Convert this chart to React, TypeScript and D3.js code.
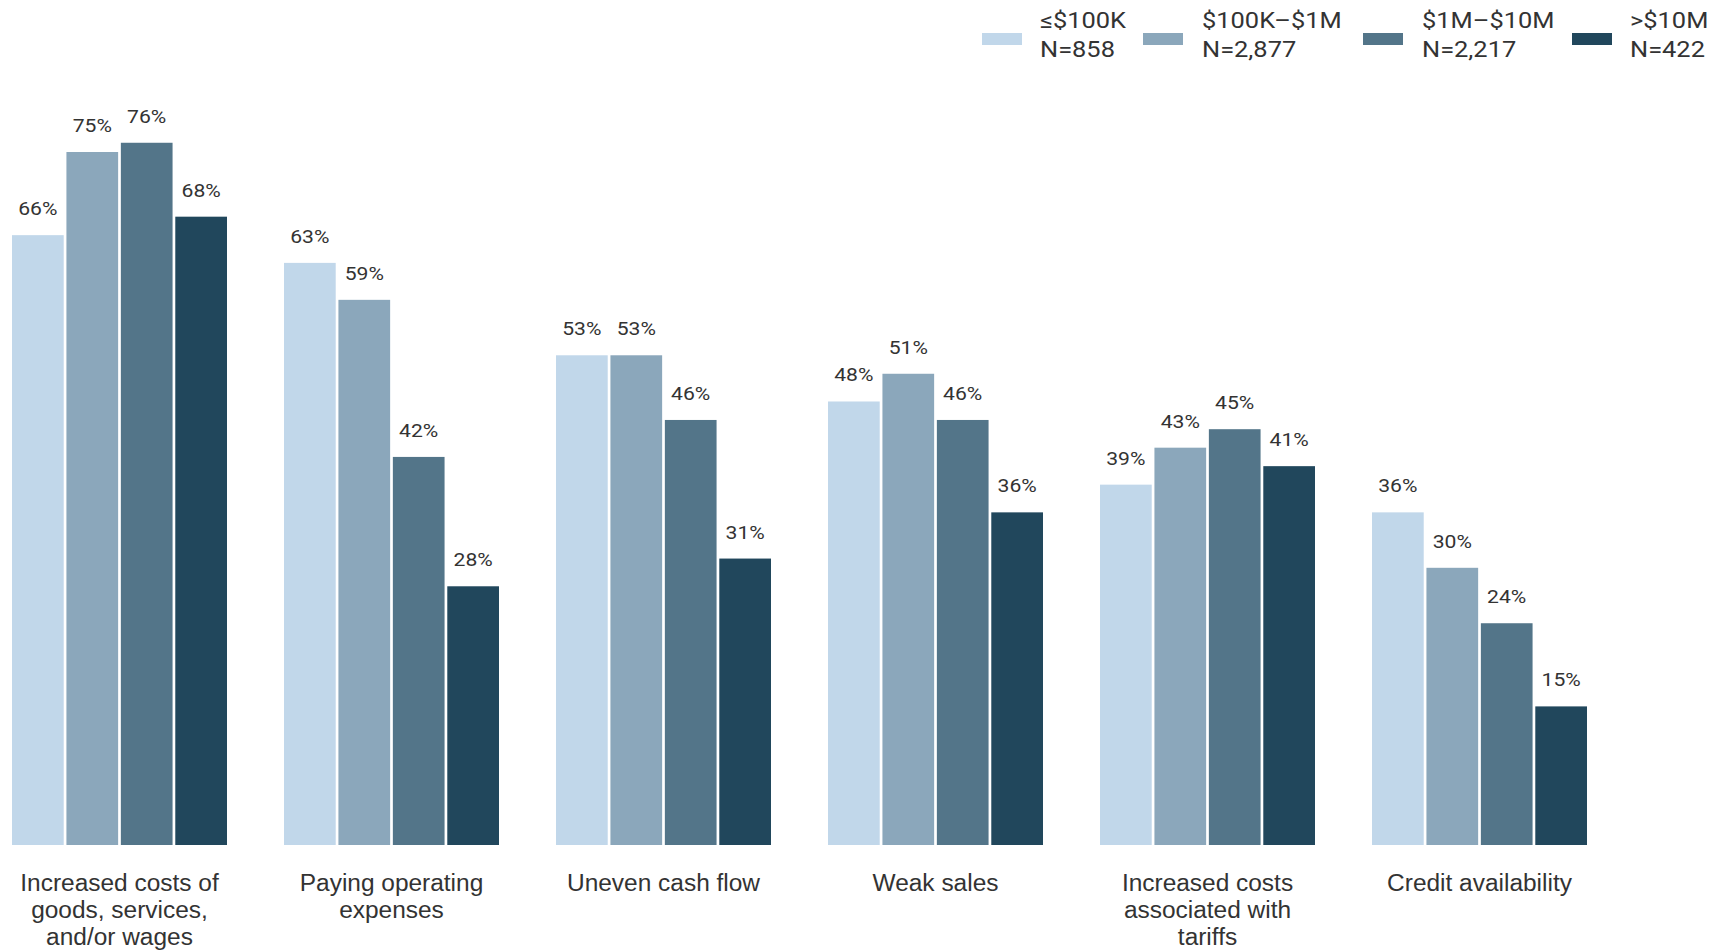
import React from "react";
import * as d3 from "d3";

const categories = [
  ["Increased costs of", "goods, services,", "and/or wages"],
  ["Paying operating", "expenses"],
  ["Uneven cash flow"],
  ["Weak sales"],
  ["Increased costs", "associated with", "tariffs"],
  ["Credit availability"],
];
const seriesNames = ["≤$100K", "$100K–$1M", "$1M–$10M", ">$10M"];
const seriesN = ["N=858", "N=2,877", "N=2,217", "N=422"];
const colors = ["#c1d7ea", "#8ba7bb", "#537589", "#21475c"];
const s1 = [66, 63, 53, 48, 39, 36];
const s2 = [75, 59, 53, 51, 43, 30];
const s3 = [76, 42, 46, 46, 45, 24];
const s4 = [68, 28, 31, 36, 41, 15];
const series = [s1, s2, s3, s4];

export default function App() {
  const W = 1724, H = 950;
  const baseY = 845;
  const x0 = d3.scaleBand<number>().domain(d3.range(categories.length)).range([12, 1587]).paddingInner(0.2096).paddingOuter(0);
  const x1 = d3.scaleBand<number>().domain(d3.range(4)).range([0, x0.bandwidth()]).paddingInner(0.05);
  const y = d3.scaleLinear().domain([0, 100]).range([baseY, baseY - 924]);
  const legendX = [982, 1143, 1363, 1572];
  const legendTX = [1040, 1202, 1422, 1630];
  return (
    <svg width={W} height={H} style={{ position: "absolute", left: 0, top: 0, background: "#fff" }}>
      <rect width={W} height={H} fill="#fff" />
      {legendX.map((lx, i) => (
        <g key={i}>
          <rect x={lx} y={33} width={40} height={12} fill={colors[i]} />
          <g transform={`translate(${legendTX[i]},0) scale(1.13,1)`}>
            <text x={0} y={28.5} fontFamily="Roboto" fontSize={22.5} fill="#333">{seriesNames[i]}</text>
            <text x={0} y={57.5} fontFamily="Roboto" fontSize={22.5} fill="#333">{seriesN[i]}</text>
          </g>
        </g>
      ))}
      {categories.map((cat, ci) => (
        <g key={ci} transform={`translate(${x0(ci)},0)`}>
          {series.map((s, si) => (
            <g key={si}>
              <rect x={x1(si)} y={y(s[ci])} width={x1.bandwidth()} height={baseY - y(s[ci])} fill={colors[si]} />
              <text transform={`translate(${(x1(si) as number) + x1.bandwidth() / 2},${y(s[ci]) - 20}) scale(1.1,1)`} textAnchor="middle" fontFamily="Roboto" fontSize={19.2} fill="#333">{s[ci]}%</text>
            </g>
          ))}
          {cat.map((line, li) => (
            <text key={li} transform={`translate(${x0.bandwidth() / 2},${891 + li * 27}) scale(1.05,1)`} textAnchor="middle" fontFamily="Liberation Sans, Arial" fontSize={23.3} fill="#333">{line}</text>
          ))}
        </g>
      ))}
    </svg>
  );
}
